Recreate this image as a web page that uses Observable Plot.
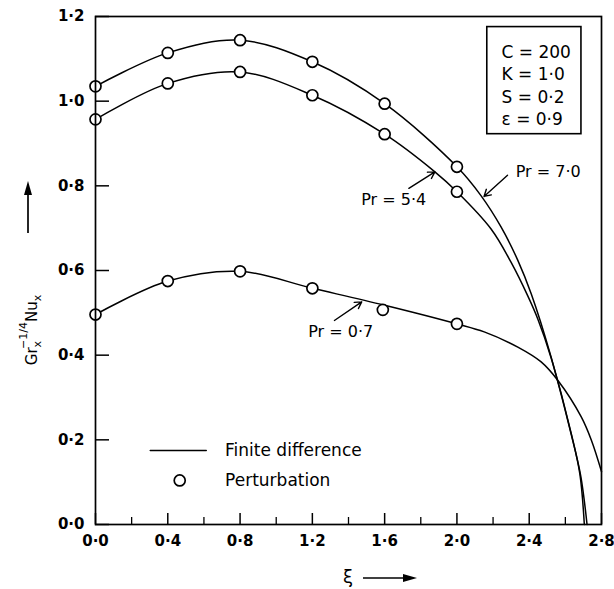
<!DOCTYPE html>
<html><head><meta charset="utf-8">
<script src="https://cdn.jsdelivr.net/npm/d3@7"></script>
<script src="https://cdn.jsdelivr.net/npm/@observablehq/plot@0.6"></script>
<style>body{margin:0;background:#fff} svg{font-family:"DejaVu Sans",sans-serif}</style>
</head><body><div id="chart"></div>
<script>
// ---- Finite difference curves (xi, Gr^-1/4 Nu) ----
const fdXi7  = [0, 0.4, 0.8, 1.2, 1.6, 2.0, 2.133, 2.244, 2.337, 2.411, 2.521, 2.633, 2.68, 2.705];
const fdNu7  = [1.035, 1.114, 1.144, 1.093, 0.994, 0.845, 0.777, 0.703, 0.624, 0.545, 0.396, 0.214, 0.12, 0];
const fdXi54 = [0, 0.4, 0.8, 1.2, 1.6, 1.878, 2.0, 2.189, 2.3, 2.392, 2.448, 2.521, 2.633, 2.685, 2.72];
const fdNu54 = [0.957, 1.042, 1.069, 1.014, 0.922, 0.833, 0.786, 0.698, 0.619, 0.54, 0.485, 0.394, 0.212, 0.115, 0];
const fdXi07 = [0, 0.4, 0.8, 1.2, 1.6, 2.0, 2.151, 2.337, 2.466, 2.559, 2.688, 2.744, 2.8];
const fdNu07 = [0.496, 0.575, 0.598, 0.558, 0.518, 0.474, 0.455, 0.419, 0.384, 0.34, 0.254, 0.199, 0.125];

// ---- Perturbation points ----
const pXi   = [0, 0.4, 0.8, 1.2, 1.6, 2.0];
const pXi07 = [0, 0.4, 0.8, 1.2, 1.59, 2.0];
const pNu7  = [1.035, 1.114, 1.144, 1.093, 0.994, 0.845];
const pNu54 = [0.957, 1.042, 1.069, 1.014, 0.922, 0.786];
const pNu07 = [0.496, 0.575, 0.598, 0.558, 0.507, 0.474];

// ---- Ticks ----
const xTicks = [0, 0.4, 0.8, 1.2, 1.6, 2.0, 2.4, 2.8];
const xTickLabels = ["0·0", "0·4", "0·8", "1·2", "1·6", "2·0", "2·4", "2·8"];
const xMinor = [0.2, 0.6, 1.0, 1.4, 1.8, 2.2, 2.6];
const yTicks = [0, 0.2, 0.4, 0.6, 0.8, 1.0, 1.2];
const yTickLabels = ["0·0", "0·2", "0·4", "0·6", "0·8", "1·0", "1·2"];

// ---- Annotations ----
const prLabels = ["Pr = 7·0", "Pr = 5·4", "Pr = 0·7"];
const prLabelX = [2.505, 1.65, 1.357];
const prLabelY = [0.832, 0.766, 0.454];
const prArrowX1 = [2.28, 1.734, 1.322];
const prArrowY1 = [0.825, 0.794, 0.482];
const prArrowX2 = [2.15, 1.878, 1.473];
const prArrowY2 = [0.775, 0.833, 0.526];

const paramLines = ["C = 200", "K = 1·0", "S = 0·2", "ε = 0·9"];
const paramY = [1.116, 1.064, 1.009, 0.957];
const paramX = 2.247;
const paramBox = {x1: 2.168, x2: 2.689, y1: 0.922, y2: 1.175};

const legendLabels = ["Finite difference", "Perturbation"];
const legendY = [0.175, 0.104];
const legendTextX = 0.717;
const legendLineX = [0.303, 0.613];
const legendDotX = 0.466;

const W = 614, H = 589, mL = 95, mR = 13, mT = 16, mB = 65;
const plotW = W - mL - mR, plotH = H - mT - mB;

const toRows = (xs, ys, s) => xs.map((x, i) => ({xi: x, nu: ys[i], s}));
const fd = [...toRows(fdXi7, fdNu7, "7.0"), ...toRows(fdXi54, fdNu54, "5.4"), ...toRows(fdXi07, fdNu07, "0.7")];
const pert = [...toRows(pXi, pNu7, "7.0"), ...toRows(pXi, pNu54, "5.4"), ...toRows(pXi07, pNu07, "0.7")];
const ann = prLabels.map((t, i) => ({t, x: prLabelX[i], y: prLabelY[i], x1: prArrowX1[i], y1: prArrowY1[i], x2: prArrowX2[i], y2: prArrowY2[i]}));
const params = paramLines.map((t, i) => ({t, y: paramY[i]}));
const leg = legendLabels.map((t, i) => ({t, y: legendY[i]}));

const chart = Plot.plot({
  width: W, height: H,
  marginLeft: mL, marginRight: mR, marginTop: mT, marginBottom: mB,
  x: {domain: [0, 2.8]},
  y: {domain: [0, 1.2]},
  marks: [
    Plot.line(fd, {x: "xi", y: "nu", z: "s", curve: "catmull-rom", stroke: "black", strokeWidth: 1.5}),
    Plot.dot(pert, {x: "xi", y: "nu", r: 5.5, stroke: "black", fill: "white", strokeWidth: 1.7}),
    Plot.tickX(xTicks, {x: d => d, insetTop: plotH - 11, stroke: "black", strokeWidth: 1.5}),
    Plot.tickX(xMinor, {x: d => d, insetTop: plotH - 7, stroke: "black", strokeWidth: 1.3}),
    Plot.tickY(yTicks, {y: d => d, insetRight: plotW - 14, stroke: "black", strokeWidth: 1.5}),
    Plot.axisX({ticks: xTicks, tickSize: 0, tickPadding: 11, tickFormat: d => xTickLabels[xTicks.indexOf(d)], fontSize: 15, fontWeight: "bold", label: null, fill: "black"}),
    Plot.axisY({ticks: yTicks, tickSize: 0, tickPadding: 11, tickFormat: d => yTickLabels[yTicks.indexOf(d)], fontSize: 15, fontWeight: "bold", label: null, fill: "black"}),
    Plot.frame({stroke: "black", strokeWidth: 1.7}),
    Plot.text(ann, {x: "x", y: "y", text: "t", fontSize: 16, fill: "black"}),
    Plot.arrow(ann, {x1: "x1", y1: "y1", x2: "x2", y2: "y2", bend: 0, headLength: 8, stroke: "black", strokeWidth: 1.4}),
    Plot.rect([paramBox], {x1: "x1", x2: "x2", y1: "y1", y2: "y2", fill: "none", stroke: "black", strokeWidth: 1.6}),
    Plot.text(params, {x: paramX, y: "y", text: "t", textAnchor: "start", fontSize: 17, fill: "black"}),
    Plot.line(legendLineX.map(x => ({x, y: legendY[0]})), {x: "x", y: "y", stroke: "black", strokeWidth: 1.5}),
    Plot.dot([{x: legendDotX, y: legendY[1]}], {x: "x", y: "y", r: 5.5, stroke: "black", fill: "white", strokeWidth: 1.7}),
    Plot.text(leg, {x: legendTextX, y: "y", text: "t", textAnchor: "start", fontSize: 17, fill: "black", style: "letter-spacing:0.5px"})
  ]
});

const svg = d3.select(chart);
// Y-axis label (rotated) with sub/superscripts
const yl = svg.append("text").attr("transform", "translate(37,330) rotate(-90)")
  .attr("font-size", 15).attr("fill", "black").attr("font-family", "DejaVu Sans, sans-serif");
yl.append("tspan").text("Gr");
yl.append("tspan").attr("dy", 4).attr("font-size", 11).text("x");
yl.append("tspan").attr("dx", -8).attr("dy", -14).attr("font-size", 11).text("−1/4");
yl.append("tspan").attr("dy", 10).text("Nu");
yl.append("tspan").attr("dy", 4).attr("font-size", 11).text("x");
// arrow on y label
svg.append("line").attr("x1", 28).attr("y1", 233).attr("x2", 28).attr("y2", 192).attr("stroke", "black").attr("stroke-width", 1.7);
svg.append("path").attr("d", "M28,181 L24,195 L32,195 Z").attr("fill", "black");
// X-axis label
svg.append("text").attr("x", 348).attr("y", 583).attr("text-anchor", "middle")
  .attr("font-size", 18).attr("fill", "black").text("ξ");
svg.append("line").attr("x1", 363).attr("y1", 578).attr("x2", 406).attr("y2", 578).attr("stroke", "black").attr("stroke-width", 1.7);
svg.append("path").attr("d", "M417,578 L403,574 L403,582 Z").attr("fill", "black");

document.getElementById("chart").appendChild(chart);
</script>
</body></html>
